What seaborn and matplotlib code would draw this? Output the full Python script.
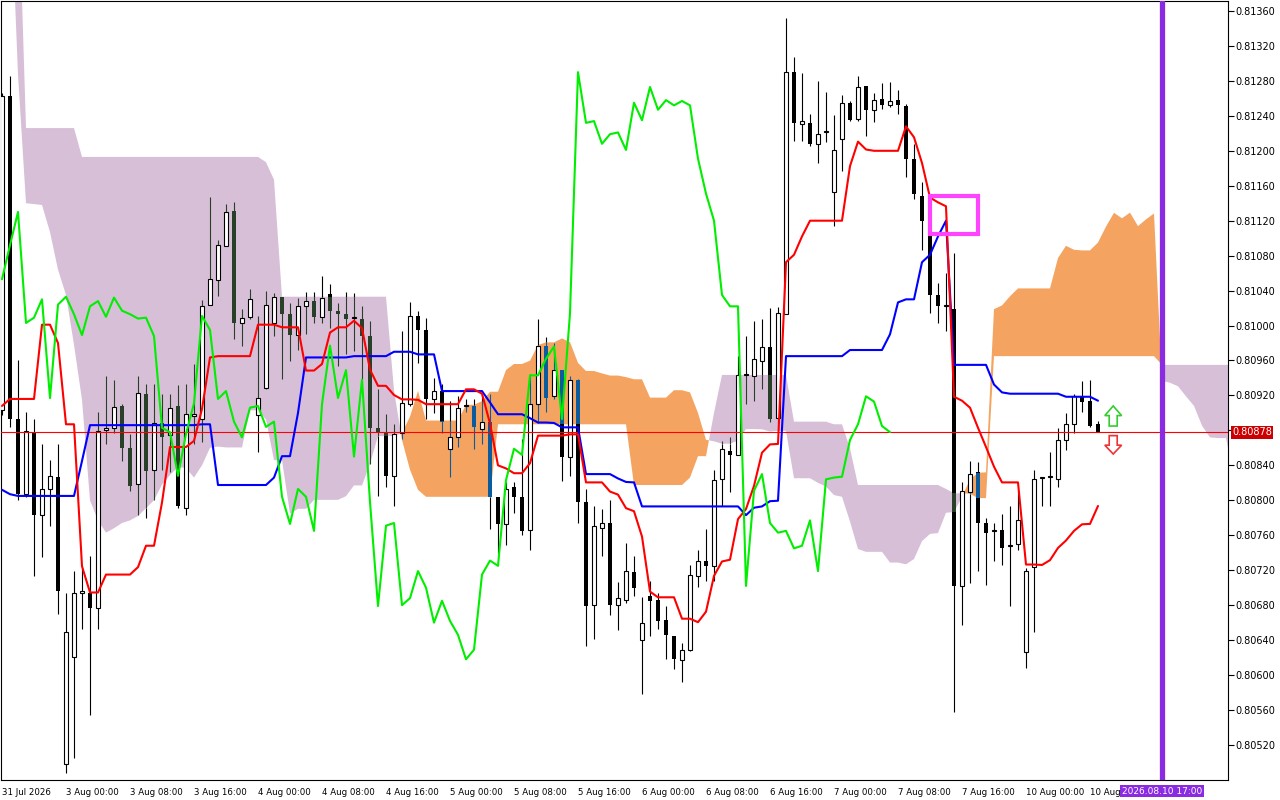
import numpy as np
import pandas as pd
import matplotlib
matplotlib.use("Agg")
import matplotlib.pyplot as plt
import matplotlib.transforms as mtransforms
from matplotlib.patches import Polygon, Rectangle
import seaborn as sns

# hourly candles, 31 Jul 16:00 -> 10 Aug 09:00
opens = [0.80903, 0.81263, 0.80893, 0.80807, 0.80878, 0.80783, 0.80813, 0.80827, 0.80498, 0.80621,
         0.80694, 0.80694, 0.80677, 0.80880, 0.80883, 0.80908, 0.80860, 0.80819, 0.80922, 0.80835,
         0.80888, 0.80875, 0.80908, 0.80791, 0.80896, 0.80893, 0.81024, 0.81052, 0.81091, 0.81131,
         0.81003, 0.81010, 0.80898, 0.80929, 0.81003, 0.81033, 0.81013, 0.80989, 0.81022, 0.81028,
         0.81010, 0.81036, 0.81017, 0.81013, 0.81009, 0.81008, 0.80988, 0.80883, 0.80878, 0.80828,
         0.80877, 0.80910, 0.81011, 0.80995, 0.80916, 0.80925, 0.80859, 0.80872, 0.80908, 0.80908,
         0.80882, 0.80890, 0.80804, 0.80773, 0.80815, 0.80804, 0.80766, 0.80910, 0.80977, 0.80919,
         0.80949, 0.80850, 0.80938, 0.80798, 0.80680, 0.80768, 0.80774, 0.80680, 0.80686, 0.80718,
         0.80640, 0.80690, 0.80686, 0.80663, 0.80645, 0.80617, 0.80629, 0.80713, 0.80731, 0.80725,
         0.80824, 0.80856, 0.80852, 0.80943, 0.80942, 0.80959, 0.80976, 0.80894, 0.81013, 0.81290,
         0.81231, 0.81232, 0.81208, 0.81221, 0.81153, 0.81213, 0.81255, 0.81236, 0.81274, 0.81247,
         0.81259, 0.81252, 0.81258, 0.81251, 0.81191, 0.81148, 0.81119, 0.81035, 0.81022, 0.81019,
         0.80702, 0.80810, 0.80832, 0.80774, 0.80765, 0.80766, 0.80748, 0.80750, 0.80626, 0.80724,
         0.80826, 0.80827, 0.80824, 0.80869, 0.80887, 0.80919, 0.80914, 0.80887]
highs = [0.81266, 0.81286, 0.80961, 0.80901, 0.80893, 0.80864, 0.80846, 0.80864, 0.80694, 0.80719,
         0.80723, 0.80736, 0.80901, 0.80942, 0.80938, 0.80910, 0.80876, 0.80942, 0.80933, 0.80933,
         0.80922, 0.80922, 0.80932, 0.80933, 0.80956, 0.81029, 0.81147, 0.81098, 0.81139, 0.81141,
         0.81019, 0.81042, 0.81011, 0.81040, 0.81037, 0.81033, 0.81026, 0.81032, 0.81038, 0.81038,
         0.81057, 0.81048, 0.81026, 0.81038, 0.81037, 0.81022, 0.81005, 0.80927, 0.80899, 0.80887,
         0.80994, 0.81027, 0.81017, 0.81009, 0.80940, 0.80933, 0.80914, 0.80919, 0.80916, 0.80916,
         0.80922, 0.80922, 0.80804, 0.80821, 0.80821, 0.80870, 0.80945, 0.81008, 0.80987, 0.80980,
         0.80949, 0.80942, 0.80939, 0.80813, 0.80793, 0.80790, 0.80800, 0.80706, 0.80751, 0.80736,
         0.80689, 0.80708, 0.80694, 0.80679, 0.80645, 0.80637, 0.80726, 0.80743, 0.80767, 0.80835,
         0.80868, 0.80872, 0.80965, 0.80988, 0.81005, 0.81008, 0.81020, 0.81021, 0.81352, 0.81307,
         0.81289, 0.81242, 0.81280, 0.81267, 0.81241, 0.81264, 0.81257, 0.81286, 0.81274, 0.81266,
         0.81278, 0.81279, 0.81270, 0.81254, 0.81208, 0.81164, 0.81119, 0.81049, 0.81060, 0.81083,
         0.80821, 0.80845, 0.80844, 0.80780, 0.80774, 0.80784, 0.80793, 0.80811, 0.80723, 0.80835,
         0.80827, 0.80855, 0.80883, 0.80900, 0.80922, 0.80937, 0.80938, 0.80891]
lows = [0.80898, 0.80884, 0.80800, 0.80804, 0.80713, 0.80735, 0.80771, 0.80670, 0.80488, 0.80505,
        0.80653, 0.80554, 0.80653, 0.80864, 0.80877, 0.80845, 0.80811, 0.80783, 0.80780, 0.80800,
        0.80835, 0.80832, 0.80791, 0.80783, 0.80864, 0.80867, 0.81024, 0.81034, 0.81091, 0.80985,
        0.80977, 0.81008, 0.80855, 0.80927, 0.80988, 0.80939, 0.80959, 0.80972, 0.80990, 0.81003,
        0.81003, 0.80997, 0.80954, 0.80967, 0.80971, 0.80937, 0.80842, 0.80805, 0.80815, 0.80793,
        0.80870, 0.80908, 0.80957, 0.80893, 0.80900, 0.80877, 0.80827, 0.80861, 0.80901, 0.80859,
        0.80864, 0.80767, 0.80740, 0.80749, 0.80785, 0.80760, 0.80743, 0.80888, 0.80901, 0.80916,
        0.80822, 0.80828, 0.80774, 0.80633, 0.80641, 0.80736, 0.80669, 0.80652, 0.80682, 0.80690,
        0.80578, 0.80645, 0.80653, 0.80618, 0.80607, 0.80592, 0.80628, 0.80701, 0.80708, 0.80708,
        0.80793, 0.80810, 0.80852, 0.80910, 0.80914, 0.80927, 0.80890, 0.80888, 0.81013, 0.81211,
        0.81211, 0.81206, 0.81186, 0.81210, 0.81114, 0.81177, 0.81234, 0.81234, 0.81217, 0.81233,
        0.81248, 0.81250, 0.81242, 0.81170, 0.81145, 0.81086, 0.81014, 0.81003, 0.80994, 0.80558,
        0.80657, 0.80705, 0.80719, 0.80703, 0.80731, 0.80726, 0.80679, 0.80743, 0.80608, 0.80649,
        0.80793, 0.80793, 0.80815, 0.80858, 0.80877, 0.80901, 0.80884, 0.80878]
closes = [0.81263, 0.80893, 0.80807, 0.80879, 0.80783, 0.80813, 0.80828, 0.80696, 0.80649, 0.80694,
          0.80696, 0.80677, 0.80879, 0.80883, 0.80907, 0.80860, 0.80816, 0.80923, 0.80834, 0.80888,
          0.80872, 0.80906, 0.80793, 0.80899, 0.80899, 0.81022, 0.81053, 0.81092, 0.81130, 0.81003,
          0.81009, 0.81030, 0.80917, 0.81024, 0.81033, 0.81013, 0.80989, 0.81022, 0.81028, 0.81010,
          0.81032, 0.81017, 0.81013, 0.81008, 0.81009, 0.80988, 0.80883, 0.80878, 0.80828, 0.80876,
          0.80911, 0.81011, 0.80995, 0.80916, 0.80925, 0.80890, 0.80872, 0.80906, 0.80908, 0.80884,
          0.80890, 0.80804, 0.80773, 0.80813, 0.80804, 0.80765, 0.80910, 0.80977, 0.80917, 0.80949,
          0.80850, 0.80938, 0.80798, 0.80679, 0.80771, 0.80774, 0.80680, 0.80688, 0.80719, 0.80700,
          0.80660, 0.80685, 0.80662, 0.80646, 0.80618, 0.80629, 0.80715, 0.80731, 0.80725, 0.80823,
          0.80859, 0.80852, 0.80943, 0.80943, 0.80962, 0.80976, 0.80893, 0.81014, 0.81290, 0.81232,
          0.81234, 0.81208, 0.81219, 0.81221, 0.81201, 0.81255, 0.81235, 0.81273, 0.81247, 0.81258,
          0.81252, 0.81257, 0.81252, 0.81191, 0.81151, 0.81120, 0.81035, 0.81022, 0.81022, 0.80702,
          0.80811, 0.80830, 0.80774, 0.80763, 0.80765, 0.80745, 0.80748, 0.80777, 0.80719, 0.80824,
          0.80826, 0.80827, 0.80869, 0.80887, 0.80919, 0.80913, 0.80885, 0.80878]

# indicator values on the first bars (their history is off the left edge)
tenkan_start = [0.80908, 0.80916, 0.80916, 0.80916, 0.80916, 0.81001, 0.81001, 0.80980]
kijun_start = [0.80812, 0.80807, 0.80805, 0.80805, 0.80805, 0.80805, 0.80805, 0.80805, 0.80805, 0.80805,
               0.80845, 0.80886, 0.80886, 0.80886, 0.80886, 0.80886, 0.80886, 0.80886, 0.80886, 0.80886,
               0.80886, 0.80886, 0.80886, 0.80886, 0.80886]
span_a_start = [0.81716, 0.81516, 0.81287, 0.81140, 0.81139, 0.81138, 0.81107, 0.81064, 0.81035, 0.80978,
                0.80915, 0.80800, 0.80777, 0.80763, 0.80768, 0.80774, 0.80777, 0.80782, 0.80791, 0.80800,
                0.80818, 0.80829, 0.80838, 0.80837, 0.80826, 0.80840]
span_b_start = [0.81830, 0.81716, 0.81521, 0.81226, 0.81226, 0.81226, 0.81226, 0.81226, 0.81226, 0.81226,
                0.81193, 0.81193, 0.81193, 0.81193, 0.81193, 0.81193, 0.81193, 0.81193, 0.81193, 0.81193,
                0.81193, 0.81193, 0.81193, 0.81193, 0.81193, 0.81193, 0.81193, 0.81193, 0.81193, 0.81193,
                0.81193, 0.81193, 0.81193, 0.81187, 0.81167, 0.81033, 0.81033, 0.81033, 0.81033, 0.81033,
                0.81033, 0.81033, 0.81033, 0.81033, 0.81033, 0.81033, 0.81033, 0.81033, 0.81033, 0.80926,
                0.80869, 0.80835, 0.80812, 0.80804, 0.80804, 0.80804, 0.80804, 0.80804, 0.80804, 0.80804,
                0.80804, 0.80804, 0.80887, 0.80887, 0.80887, 0.80887, 0.80887, 0.80887, 0.80887, 0.80887,
                0.80887, 0.80887, 0.80887, 0.80887, 0.80887, 0.80887, 0.80887]

bid_price = 0.80878
price_ticks = [0.80520, 0.80560, 0.80600, 0.80640, 0.80680, 0.80720, 0.80760, 0.80800, 0.80840, 0.80880,
               0.80920, 0.80960, 0.81000, 0.81040, 0.81080, 0.81120, 0.81160, 0.81200, 0.81240, 0.81280,
               0.81320, 0.81360]
marker_bar = 145
marker_text = "2026.08.10 17:00"
box_bars = (116, 122)
box_prices = (0.81105, 0.81148)
signal_bar = 138.9
up_arrow = (0.80885, 0.80908)     # base, tip
down_arrow = (0.80874, 0.80853)   # base, tip

SANDY = "#f4a460"
THISTLE = "#d8bfd8"
INV = {SANDY: "#0b5b9f", THISTLE: "#274027"}

sns.set_style("white")
plt.rcParams["font.family"] = ["DejaVu Sans"]

O = np.array(opens); H = np.array(highs); L = np.array(lows); C = np.array(closes)
n = len(C)
shift = 26
px = 0.0004 / 34.95   # price per screen pixel


def mid(i, period):
    return (H[i - period + 1:i + 1].max() + L[i - period + 1:i + 1].min()) / 2


tenkan = np.array(tenkan_start + [mid(i, 9) for i in range(len(tenkan_start), n)])
kijun = np.array(kijun_start + [mid(i, 26) for i in range(len(kijun_start), n)])
span_a = np.array(span_a_start + [(tenkan[i - shift] + kijun[i - shift]) / 2
                                  for i in range(len(span_a_start), n + shift)])
span_b = np.array(span_b_start + [mid(i - shift, 52) for i in range(len(span_b_start), n + shift)])

fig = plt.figure(figsize=(12.8, 8), dpi=100)
ax = fig.add_axes([1 / 1280, 20 / 800, 1227 / 1280, 779 / 800])

# cloud
cx = np.arange(n + shift)
ax.fill_between(cx, span_a, span_b, where=span_a >= span_b, interpolate=True,
                color=SANDY, lw=0, zorder=1)
ax.fill_between(cx, span_a, span_b, where=span_a < span_b, interpolate=True,
                color=THISTLE, lw=0, zorder=1)

# candles, black parts inside the cloud are shown inverted like in MT4
bars = np.arange(n)
cl_lo = np.minimum(span_a[:n], span_b[:n])
cl_hi = np.maximum(span_a[:n], span_b[:n])
cl_col = np.where(span_a[:n] >= span_b[:n], SANDY, THISTLE)


def pieces(i, lo, hi):
    a, b = cl_lo[i], cl_hi[i]
    out = []
    if lo < a:
        out.append((lo, min(hi, a), "black"))
    if hi > a and lo < b:
        out.append((max(lo, a), min(hi, b), INV[cl_col[i]]))
    if hi > b:
        out.append((max(lo, b), hi, "black"))
    return out


wx, w0, w1, wc = [], [], [], []
bx, bb, bh, bc = [], [], [], []
ux, ub, uh = [], [], []
for i in bars:
    for lo, hi, col in pieces(i, L[i], H[i]):
        wx.append(i); w0.append(lo); w1.append(hi); wc.append(col)
    lo, hi = min(O[i], C[i]), max(O[i], C[i])
    if hi - lo < px:
        hi = lo + px
    if C[i] >= O[i]:
        ux.append(i); ub.append(lo); uh.append(hi - lo)
    else:
        for a, b, col in pieces(i, lo, hi):
            bx.append(i); bb.append(a); bh.append(b - a); bc.append(col)

ax.vlines(wx, w0, w1, colors=wc, lw=0.8, zorder=3)
ax.bar(ux, uh, bottom=ub, width=0.6, color="white", edgecolor="black", lw=0.8, zorder=4)
ax.bar(bx, bh, bottom=bb, width=0.6, color=bc, lw=0, zorder=4)

# ichimoku lines
lines = pd.concat([
    pd.DataFrame({"bar": bars, "price": kijun, "line": "Kijun-sen"}),
    pd.DataFrame({"bar": bars, "price": tenkan, "line": "Tenkan-sen"}),
    pd.DataFrame({"bar": bars[:n - shift], "price": C[shift:], "line": "Chikou Span"}),
], ignore_index=True)
sns.lineplot(data=lines, x="bar", y="price", hue="line", estimator=None, sort=False,
             palette={"Tenkan-sen": "#ff0000", "Kijun-sen": "#0000ff", "Chikou Span": "#00ee00"},
             linewidth=1.5, legend=False, ax=ax, zorder=5)

ax.axhline(bid_price, color="#ff0000", lw=0.8, zorder=4.5)

# highlight box and signal arrows
ax.add_patch(Rectangle((box_bars[0], box_prices[0]), box_bars[1] - box_bars[0],
                       box_prices[1] - box_prices[0], fill=False, ec="#ff44ff", lw=3, zorder=6))


def block_arrow(base, tip, color):
    hw, sw = 1.05, 0.5
    neck = tip + (base - tip) * 0.48
    pts = [(signal_bar, tip), (signal_bar + hw, neck), (signal_bar + sw, neck),
           (signal_bar + sw, base), (signal_bar - sw, base), (signal_bar - sw, neck),
           (signal_bar - hw, neck)]
    ax.add_patch(Polygon(pts, closed=True, fc="white", ec=color, lw=1.2, zorder=6))


block_arrow(up_arrow[0], up_arrow[1], "#33cc33")
block_arrow(down_arrow[0], down_arrow[1], "#ee3333")

ax.axvline(marker_bar, color="#8a2be2", lw=3.8, zorder=7)

# axes
ax.set_xlim(-0.125, 153.25)
ax.set_ylim(0.81360 - 769 * px, 0.81360 + 10 * px)
ax.set_xlabel("")
ax.set_ylabel("")

times = pd.date_range("2026-07-31 16:00", "2026-08-10 09:00", freq="h")
times = times[times.dayofweek < 5]
tick_bars = bars[::8]
tick_labels = [f"{times[0].day} {times[0].strftime('%b %Y')}"] + \
              [f"{times[i].day} {times[i].strftime('%b %H:%M')}" for i in tick_bars[1:]]
# the last label is cut short by the time marker box
tick_labels[-1] = f"{times[tick_bars[-1]].day} {times[tick_bars[-1]].strftime('%b')}"
ax.set_xticks(tick_bars)
ax.set_xticklabels(tick_labels, ha="left", fontsize=6.2)

ax.yaxis.tick_right()
ax.set_yticks(price_ticks)
# the bid price box hides the tick label right under it
ax.set_yticklabels(["" if abs(p - bid_price) < 8 * px else f"{p:.5f}" for p in price_ticks],
                   fontsize=7)
ax.tick_params(axis="both", direction="out", length=4, width=0.8, color="black",
               labelcolor="black", pad=1.5)
for s in ax.spines.values():
    s.set_color("black")
    s.set_linewidth(0.8)

ytrans = mtransforms.blended_transform_factory(ax.transAxes, ax.transData)
ax.text(1 + 4 / 1227, bid_price, f"{bid_price:.5f}", transform=ytrans, fontsize=7,
        color="white", ha="left", va="center", zorder=10,
        bbox=dict(boxstyle="square,pad=0.15", fc="#cc0000", ec="none"))

xtrans = mtransforms.blended_transform_factory(ax.transData, ax.transAxes)
ax.text(marker_bar, -11 / 779, marker_text, transform=xtrans, fontsize=6.5,
        color="white", ha="center", va="center", zorder=10, clip_on=False,
        bbox=dict(boxstyle="square,pad=0.2", fc="#8a2be2", ec="none"))

fig.savefig("out.png", dpi=100)
